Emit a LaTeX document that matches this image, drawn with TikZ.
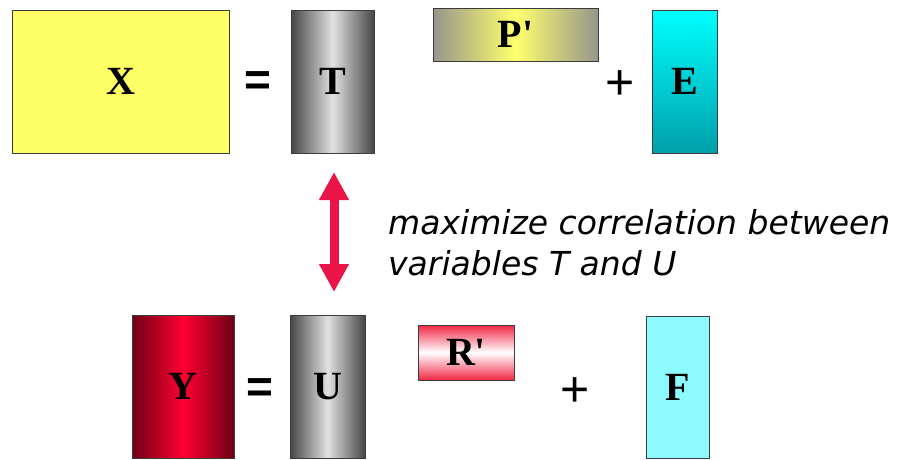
\documentclass[tikz,border=0pt]{standalone}
\usepackage{fontspec}
\setmainfont{Liberation Serif}
\newfontfamily\notefont{DejaVu Sans}
\newfontfamily\opfont{Liberation Sans}
\usetikzlibrary{arrows.meta}
\definecolor{xyellow}{RGB}{255,255,102}
\definecolor{tdark}{RGB}{70,70,70}
\definecolor{tlight}{RGB}{225,225,225}
\definecolor{pgray}{RGB}{150,150,140}
\definecolor{pyellow}{RGB}{255,255,110}
\definecolor{ecyan}{RGB}{0,255,255}
\definecolor{eteal}{RGB}{0,160,170}
\definecolor{ydark}{RGB}{110,0,20}
\definecolor{yred}{RGB}{255,0,50}
\definecolor{rred}{RGB}{240,40,70}
\definecolor{fcyan}{RGB}{140,250,255}
\definecolor{arrowred}{RGB}{235,20,70}
\definecolor{edge}{RGB}{60,60,60}
\tikzset{
  mat/.style={draw=edge, line width=1pt, inner sep=0pt, font=\fontsize{40}{42}\selectfont\bfseries},
  op/.style={inner sep=0pt, font=\opfont\fontsize{46}{48}\selectfont\bfseries},
  plusop/.style={inner sep=0pt, font=\opfont\fontsize{50}{52}\selectfont},
  note/.style={inner sep=0pt, anchor=west, font=\notefont\itshape\fontsize{33}{36}\selectfont},
}
\begin{document}
\begin{tikzpicture}[x=1pt,y=-1pt]
\useasboundingbox (0,0) rectangle (899,459);
% top row
\node[mat, fill=xyellow, minimum width=217pt, minimum height=143pt] (X) at (120.5,81.5) {X};
\node[op] (eq1) at (258,84) {=};
\node[mat, left color=tdark, right color=tdark, middle color=tlight, minimum width=83pt, minimum height=143pt] (T) at (332.5,81.5) {T};
\node[mat, left color=pgray, right color=pgray, middle color=pyellow, minimum width=165pt, minimum height=53pt] (P) at (515.5,34.5) {P\textquotesingle};
\node[plusop] (plus1) at (620,85) {+};
\node[mat, top color=ecyan, bottom color=eteal, minimum width=65pt, minimum height=143pt] (E) at (684.5,81.5) {E};
% bottom row
\node[mat, left color=ydark, right color=ydark, middle color=yred, minimum width=102pt, minimum height=143pt] (Y) at (183,386.5) {Y};
\node[op] (eq2) at (260,391) {=};
\node[mat, left color=tdark, right color=tdark, middle color=tlight, minimum width=75pt, minimum height=143pt] (U) at (327.5,386.5) {U};
\node[mat, top color=rred, bottom color=rred, middle color=white, minimum width=96pt, minimum height=55pt] (R) at (466,352.5) {R\textquotesingle};
\node[plusop] (plus2) at (575,392) {+};
\node[mat, fill=fcyan, minimum width=63pt, minimum height=142pt] (F) at (677.5,387) {F};
% correlation arrow
\coordinate (atop) at (334,172);
\coordinate (abot) at (334,292);
\draw[arrowred, line width=9pt, {Triangle[width=28pt,length=28pt]}-{Triangle[width=28pt,length=28pt]}] (atop) -- (abot);
\node[note] (n1) at (388,222) {maximize correlation between};
\node[note] (n2) at (388,263) {variables T and U};
\end{tikzpicture}
\end{document}
